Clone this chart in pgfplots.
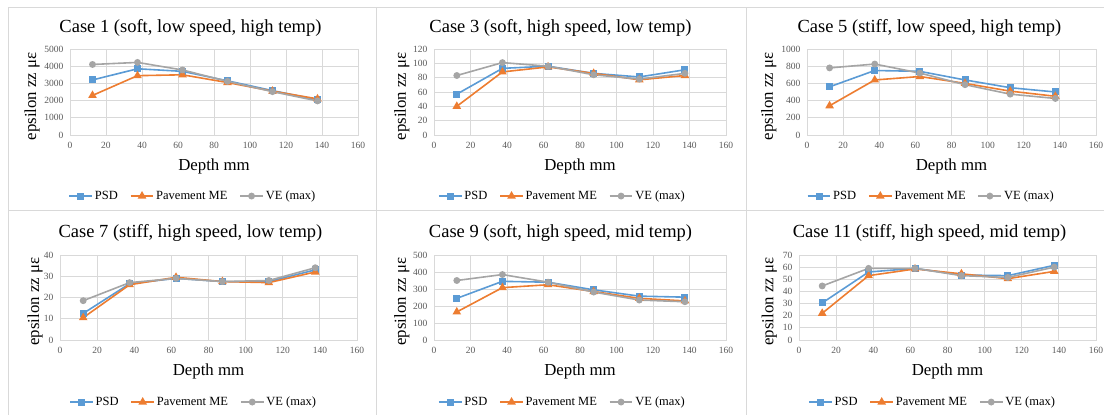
\documentclass[border=0pt]{standalone}
\usepackage{fontspec}
\setmainfont{Liberation Serif}
\usepackage{pgfplots}
\pgfplotsset{compat=1.18}
\definecolor{cpsd}{HTML}{5B9BD5}
\definecolor{cpme}{HTML}{ED7D31}
\definecolor{cve}{HTML}{A5A5A5}
\definecolor{gridc}{HTML}{D9D9D9}
\definecolor{tickc}{HTML}{595959}
\pgfplotsset{
 casestyle/.style={
   scale only axis, anchor=south west,
   xmin=0,xmax=160,ymin=0, xtick={0,20,...,160},
   grid=major, grid style={gridc, line width=0.8pt},
   axis line style={gridc, line width=0.8pt},
   major tick length=0pt,
   tick label style={font=\fontsize{9.5}{10}\selectfont, text=tickc},
   xticklabel style={yshift=-4pt},
   yticklabel style={xshift=-3pt},
   /pgf/number format/assume math mode=true,
   /pgf/number format/1000 sep={},
   xlabel={Depth mm}, ylabel={epsilon zz με},
   label style={font=\fontsize{16.8}{18}\selectfont},
   legend columns=-1,
   legend style={draw=none, fill=none, font=\fontsize{12.5}{14}\selectfont, anchor=center,
     /tikz/every even column/.append style={column sep=10pt}},
   legend image code/.code={\draw[mark repeat=2,mark phase=2] plot coordinates {(0cm,0cm) (0.4cm,0cm) (0.8cm,0cm)};},
   every axis plot/.append style={line width=1.6pt},
   xlabel style={at={(axis description cs:0.5,-0.37)}, anchor=center},
 },
 psd/.style={color=cpsd, mark=square*, mark size=2.7pt, mark options={fill=cpsd, solid}},
 pme/.style={color=cpme, mark=triangle*, mark size=3.4pt, mark options={fill=cpme, solid}},
 ve/.style={color=cve, mark=*, mark size=2.6pt, mark options={fill=cve, solid}},
}
\tikzset{ctitle/.style={font=\fontsize{18.5}{20}\selectfont, anchor=center, inner sep=0pt}}
\begin{document}
\begin{tikzpicture}
\path[use as bounding box] (0,0) rectangle (1104pt,415pt);
\draw[gridc, line width=0.8pt] (8pt,0) -- (8pt,408pt) -- (1104pt,408pt);
\draw[gridc, line width=0.8pt] (8pt,205pt) -- (1104pt,205pt);
\draw[gridc, line width=0.8pt] (376pt,0) -- (376pt,408pt);
\draw[gridc, line width=0.8pt] (746pt,0) -- (746pt,408pt);

\node[ctitle] at (190.5pt,387.5pt) {Case 1 (soft, low speed, high temp)};
\node[ctitle] at (560.5pt,387.5pt) {Case 3 (soft, high speed, low temp)};
\node[ctitle] at (929.5pt,387.5pt) {Case 5 (stiff, low speed, high temp)};
\node[ctitle] at (190.5pt,182.5pt) {Case 7 (stiff, high speed, low temp)};
\node[ctitle] at (560.5pt,182.5pt) {Case 9 (soft, high speed, mid temp)};
\node[ctitle] at (929.5pt,182.5pt) {Case 11 (stiff, high speed, mid temp)};

% Case 1
\begin{axis}[casestyle, at={(70pt,280pt)}, width=288pt, height=86pt,
  ymax=5000, ytick={0,1000,...,5000},
  ylabel style={at={(axis description cs:-0.132,0.45)}, anchor=center},
  legend style={at={(axis description cs:0.427,-0.71)}}]
\addplot[psd] coordinates {(12.5,3200) (37.5,3850) (62.5,3700) (87.5,3150) (112.5,2580) (137.5,2050)};
\addplot[pme] coordinates {(12.5,2300) (37.5,3450) (62.5,3500) (87.5,3050) (112.5,2550) (137.5,2100)};
\addplot[ve] coordinates {(12.5,4100) (37.5,4220) (62.5,3780) (87.5,3120) (112.5,2520) (137.5,1980)};
\legend{PSD, Pavement ME, VE (max)}
\end{axis}

% Case 3
\begin{axis}[casestyle, at={(434pt,280pt)}, width=292pt, height=86pt,
  ymax=120, ytick={0,20,...,120},
  ylabel style={at={(axis description cs:-0.11,0.45)}, anchor=center},
  legend style={at={(axis description cs:0.44,-0.71)}}]
\addplot[psd] coordinates {(12.5,57) (37.5,93) (62.5,96) (87.5,86) (112.5,81) (137.5,91)};
\addplot[pme] coordinates {(12.5,40) (37.5,88) (62.5,95) (87.5,86) (112.5,77) (137.5,83)};
\addplot[ve] coordinates {(12.5,83) (37.5,101) (62.5,96) (87.5,84) (112.5,78) (137.5,86)};
\legend{PSD, Pavement ME, VE (max)}
\end{axis}

% Case 5
\begin{axis}[casestyle, at={(807pt,280pt)}, width=289pt, height=86pt,
  ymax=1000, ytick={0,200,...,1000},
  ylabel style={at={(axis description cs:-0.132,0.45)}, anchor=center},
  legend style={at={(axis description cs:0.43,-0.71)}}]
\addplot[psd] coordinates {(12.5,560) (37.5,750) (62.5,740) (87.5,640) (112.5,550) (137.5,500)};
\addplot[pme] coordinates {(12.5,340) (37.5,640) (62.5,680) (87.5,600) (112.5,510) (137.5,450)};
\addplot[ve] coordinates {(12.5,780) (37.5,825) (62.5,720) (87.5,585) (112.5,475) (137.5,425)};
\legend{PSD, Pavement ME, VE (max)}
\end{axis}

% Case 7
\begin{axis}[casestyle, at={(60pt,75pt)}, width=297pt, height=85pt,
  ymax=40, ytick={0,10,...,40},
  ylabel style={at={(axis description cs:-0.084,0.45)}, anchor=center},
  legend style={at={(axis description cs:0.45,-0.73)}}]
\addplot[psd] coordinates {(12.5,12.5) (37.5,26.5) (62.5,29) (87.5,27.5) (112.5,27.5) (137.5,33)};
\addplot[pme] coordinates {(12.5,10.5) (37.5,26) (62.5,29.5) (87.5,27.5) (112.5,27) (137.5,32)};
\addplot[ve] coordinates {(12.5,18.5) (37.5,27) (62.5,29) (87.5,27.5) (112.5,28) (137.5,34)};
\legend{PSD, Pavement ME, VE (max)}
\end{axis}

% Case 9
\begin{axis}[casestyle, at={(434pt,75pt)}, width=292pt, height=85pt,
  ymax=500, ytick={0,100,...,500},
  ylabel style={at={(axis description cs:-0.11,0.45)}, anchor=center},
  legend style={at={(axis description cs:0.44,-0.73)}}]
\addplot[psd] coordinates {(12.5,245) (37.5,345) (62.5,340) (87.5,295) (112.5,258) (137.5,252)};
\addplot[pme] coordinates {(12.5,165) (37.5,308) (62.5,325) (87.5,285) (112.5,245) (137.5,230)};
\addplot[ve] coordinates {(12.5,350) (37.5,385) (62.5,340) (87.5,282) (112.5,235) (137.5,225)};
\legend{PSD, Pavement ME, VE (max)}
\end{axis}

% Case 11
\begin{axis}[casestyle, at={(799pt,75pt)}, width=297pt, height=85pt,
  ymax=70, ytick={0,10,...,70},
  ylabel style={at={(axis description cs:-0.10,0.45)}, anchor=center},
  legend style={at={(axis description cs:0.45,-0.73)}}]
\addplot[psd] coordinates {(12.5,30.5) (37.5,56) (62.5,59) (87.5,53.5) (112.5,53) (137.5,61.5)};
\addplot[pme] coordinates {(12.5,22) (37.5,53) (62.5,58.5) (87.5,54.5) (112.5,50.5) (137.5,56.5)};
\addplot[ve] coordinates {(12.5,44.5) (37.5,59) (62.5,59) (87.5,53) (112.5,51.5) (137.5,60)};
\legend{PSD, Pavement ME, VE (max)}
\end{axis}
\end{tikzpicture}
\end{document}
